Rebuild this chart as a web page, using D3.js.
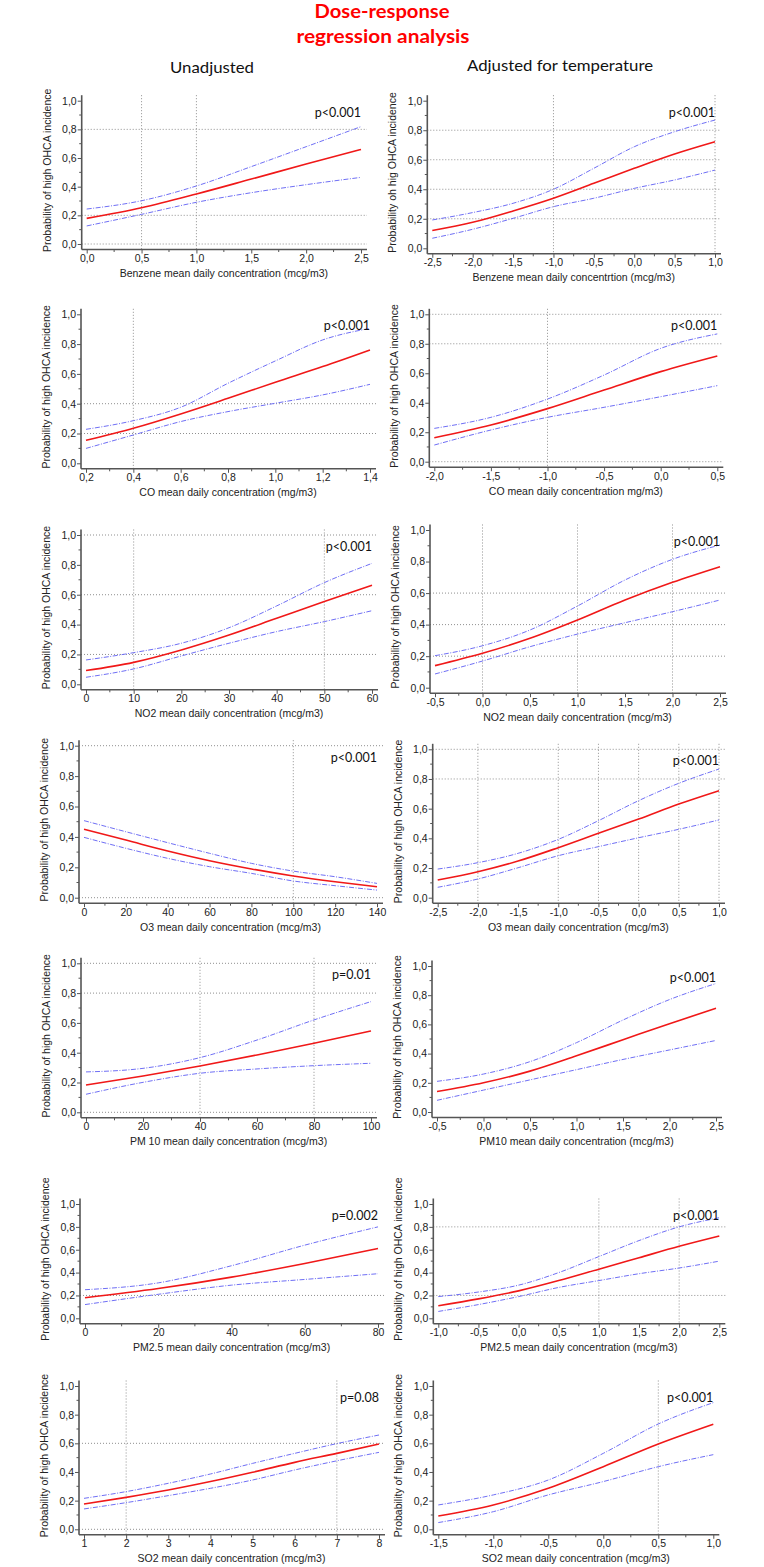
<!DOCTYPE html>
<html>
<head>
<meta charset="utf-8">
<script src="https://cdn.jsdelivr.net/npm/d3@7"></script>
<style>
body { margin: 0; background: #fff; }
text { font-family: "Liberation Sans", Arial, sans-serif; fill: #222; }
</style>
</head>
<body>
<div id="chart"></div>
<script>
// values: x positions, fitted probability, lower and upper 95% CI
var benzeneX = [0, 0.5, 1, 1.5, 2, 2.5];
var benzeneFit = [0.179, 0.253, 0.349, 0.453, 0.558, 0.660];
var benzeneLo = [0.126, 0.207, 0.291, 0.358, 0.414, 0.465];
var benzeneHi = [0.244, 0.302, 0.405, 0.540, 0.679, 0.819];

var benzeneAdjX = [-2.5, -2, -1.5, -1, -0.5, 0, 0.5, 1];
var benzeneAdjFit = [0.120, 0.176, 0.253, 0.339, 0.440, 0.542, 0.639, 0.722];
var benzeneAdjLo = [0.068, 0.129, 0.203, 0.282, 0.339, 0.406, 0.463, 0.530];
var benzeneAdjHi = [0.192, 0.242, 0.305, 0.400, 0.542, 0.688, 0.790, 0.869];

var coX = [0.2, 0.4, 0.6, 0.8, 1.0, 1.2, 1.4];
var coFit = [0.154, 0.235, 0.331, 0.436, 0.544, 0.649, 0.761];
var coLo = [0.100, 0.190, 0.280, 0.347, 0.403, 0.459, 0.530];
var coHi = [0.228, 0.286, 0.376, 0.537, 0.687, 0.828, 0.906];

var coAdjX = [-2, -1.5, -1, -0.5, 0, 0.5];
var coAdjFit = [0.163, 0.249, 0.360, 0.486, 0.611, 0.717];
var coAdjLo = [0.113, 0.215, 0.301, 0.369, 0.441, 0.516];
var coAdjHi = [0.226, 0.301, 0.425, 0.588, 0.769, 0.867];

var no2X = [0, 10, 20, 30, 40, 50, 60];
var no2Fit = [0.092, 0.147, 0.230, 0.330, 0.442, 0.554, 0.663];
var no2Lo = [0.047, 0.103, 0.190, 0.275, 0.353, 0.420, 0.493];
var no2Hi = [0.163, 0.212, 0.275, 0.379, 0.525, 0.681, 0.810];

var no2AdjX = [-0.5, 0, 0.5, 1, 1.5, 2, 2.5];
var no2AdjFit = [0.140, 0.218, 0.313, 0.429, 0.556, 0.668, 0.767];
var no2AdjLo = [0.087, 0.169, 0.260, 0.340, 0.412, 0.482, 0.556];
var no2AdjHi = [0.203, 0.266, 0.366, 0.518, 0.683, 0.814, 0.905];

var o3X = [0, 20, 40, 60, 80, 100, 120, 140];
var o3Fit = [0.450, 0.379, 0.307, 0.243, 0.189, 0.143, 0.105, 0.072];
var o3Lo = [0.397, 0.325, 0.259, 0.204, 0.160, 0.110, 0.079, 0.050];
var o3Hi = [0.507, 0.434, 0.362, 0.292, 0.226, 0.175, 0.138, 0.094];

var o3AdjX = [-2.5, -2, -1.5, -1, -0.5, 0, 0.5, 1];
var o3AdjFit = [0.119, 0.175, 0.247, 0.337, 0.434, 0.530, 0.631, 0.721];
var o3AdjLo = [0.070, 0.126, 0.202, 0.283, 0.344, 0.404, 0.461, 0.524];
var o3AdjHi = [0.193, 0.236, 0.299, 0.393, 0.519, 0.654, 0.771, 0.867];

var pm10X = [0, 20, 40, 60, 80, 100];
var pm10Fit = [0.183, 0.244, 0.311, 0.385, 0.463, 0.546];
var pm10Lo = [0.121, 0.201, 0.262, 0.291, 0.313, 0.329];
var pm10Hi = [0.271, 0.295, 0.367, 0.485, 0.620, 0.743];

var pm10AdjX = [-0.5, 0, 0.5, 1, 1.5, 2, 2.5];
var pm10AdjFit = [0.140, 0.200, 0.280, 0.385, 0.495, 0.605, 0.710];
var pm10AdjLo = [0.080, 0.150, 0.220, 0.290, 0.360, 0.425, 0.490];
var pm10AdjHi = [0.210, 0.260, 0.345, 0.475, 0.630, 0.770, 0.880];

var pm25X = [0, 20, 40, 60, 80];
var pm25Fit = [0.180, 0.260, 0.360, 0.480, 0.610];
var pm25Lo = [0.120, 0.210, 0.290, 0.340, 0.390];
var pm25Hi = [0.250, 0.310, 0.460, 0.640, 0.800];

var pm25AdjX = [-1, -0.5, 0, 0.5, 1, 1.5, 2, 2.5];
var pm25AdjFit = [0.110, 0.170, 0.240, 0.330, 0.430, 0.530, 0.630, 0.720];
var pm25AdjLo = [0.060, 0.120, 0.190, 0.270, 0.330, 0.390, 0.440, 0.500];
var pm25AdjHi = [0.190, 0.230, 0.290, 0.400, 0.540, 0.680, 0.800, 0.880];

var so2X = [1, 2, 3, 4, 5, 6, 7, 8];
var so2Fit = [0.177, 0.223, 0.274, 0.333, 0.398, 0.467, 0.530, 0.595];
var so2Lo = [0.142, 0.186, 0.235, 0.286, 0.344, 0.414, 0.478, 0.537];
var so2Hi = [0.216, 0.263, 0.321, 0.386, 0.460, 0.530, 0.598, 0.658];

var so2AdjX = [-1.5, -1, -0.5, 0, 0.5, 1];
var so2AdjFit = [0.093, 0.170, 0.286, 0.437, 0.595, 0.733];
var so2AdjLo = [0.047, 0.123, 0.240, 0.333, 0.437, 0.521];
var so2AdjHi = [0.170, 0.240, 0.344, 0.530, 0.735, 0.884];

var yTicks = [0, 0.2, 0.4, 0.6, 0.8, 1.0];
var yTitle = "Probability of high OHCA incidence";

// box = [x of min value, x of max value, y of 1.0, y of 0.0]
var panels = [
  {x: benzeneX, fit: benzeneFit, lo: benzeneLo, hi: benzeneHi, dom: [0, 2.5], step: 0.5, dec: 1,
   xTitle: "Benzene mean daily concentration (mcg/m3)", yTitle: yTitle, p: "p<0.001",
   hGrid: [0, 0.2, 0.8], vGrid: [0.5, 1], box: [86.7, 361, 100.7, 244]},
  {x: benzeneAdjX, fit: benzeneAdjFit, lo: benzeneAdjLo, hi: benzeneAdjHi, dom: [-2.5, 1], step: 0.5, dec: 1,
   xTitle: "Benzene mean daily concentrtion (mcg/m3)", yTitle: "Probability oh hig OHCA incidence", p: "p<0.001",
   hGrid: [0.2, 0.4, 0.6, 0.8], vGrid: [-1, 1], box: [432.3, 715, 100.7, 248.3]},
  {x: coX, fit: coFit, lo: coLo, hi: coHi, dom: [0.2, 1.4], step: 0.2, dec: 1,
   xTitle: "CO mean daily concentration (mg/m3)", yTitle: yTitle, p: "p<0.001",
   hGrid: [0.2, 0.4], vGrid: [0.4], box: [86, 370, 314.3, 463.3]},
  {x: coAdjX, fit: coAdjFit, lo: coAdjLo, hi: coAdjHi, dom: [-2, 0.5], step: 0.5, dec: 1,
   xTitle: "CO mean daily concentration mg/m3)", yTitle: yTitle, p: "p<0.001",
   hGrid: [0, 0.8, 1], vGrid: [-1], box: [434.3, 717.3, 314.3, 461.7]},
  {x: no2X, fit: no2Fit, lo: no2Lo, hi: no2Hi, dom: [0, 60], step: 10, dec: 0,
   xTitle: "NO2 mean daily concentration (mcg/m3)", yTitle: yTitle, p: "p<0.001",
   hGrid: [0.2, 0.6, 1], vGrid: [10, 50], box: [86, 372, 535, 684.3]},
  {x: no2AdjX, fit: no2AdjFit, lo: no2AdjLo, hi: no2AdjHi, dom: [-0.5, 2.5], step: 0.5, dec: 1,
   xTitle: "NO2 mean daily concentration (mcg/m3)", yTitle: yTitle, p: "p<0.001",
   hGrid: [0.2, 0.4, 0.6], vGrid: [0, 1, 2], box: [435, 720, 530, 687.7]},
  {x: o3X, fit: o3Fit, lo: o3Lo, hi: o3Hi, dom: [0, 140], step: 20, dec: 0,
   xTitle: "O3 mean daily concentration (mcg/m3)", yTitle: yTitle, p: "p<0.001",
   hGrid: [0, 1], vGrid: [100], box: [84, 377, 745.7, 897.7]},
  {x: o3AdjX, fit: o3AdjFit, lo: o3AdjLo, hi: o3AdjHi, dom: [-2.5, 1], step: 0.5, dec: 1,
   xTitle: "O3 mean daily concentration (mcg/m3)", yTitle: yTitle, p: "p<0.001",
   hGrid: [0.8, 1], vGrid: [-2, -1, -0.5, 0, 0.5, 1], box: [437.7, 719, 749.3, 897.7]},
  {x: pm10X, fit: pm10Fit, lo: pm10Lo, hi: pm10Hi, dom: [0, 100], step: 20, dec: 0,
   xTitle: "PM 10 mean daily concentration (mcg/m3)", yTitle: yTitle, p: "p=0.01",
   hGrid: [0, 0.8, 1], vGrid: [40, 80], box: [86, 371, 963.3, 1112.3]},
  {x: pm10AdjX, fit: pm10AdjFit, lo: pm10AdjLo, hi: pm10AdjHi, dom: [-0.5, 2.5], step: 0.5, dec: 1,
   xTitle: "PM10 mean daily concentration (mcg/m3)", yTitle: yTitle, p: "p<0.001",
   hGrid: [], vGrid: [], box: [437, 716, 966, 1112]},
  {x: pm25X, fit: pm25Fit, lo: pm25Lo, hi: pm25Hi, dom: [0, 80], step: 20, dec: 0,
   xTitle: "PM2.5 mean daily concentration (mcg/m3)", yTitle: yTitle, p: "p=0.002",
   hGrid: [0.2], vGrid: [], box: [85, 378, 1204, 1318.3]},
  {x: pm25AdjX, fit: pm25AdjFit, lo: pm25AdjLo, hi: pm25AdjHi, dom: [-1, 2.5], step: 0.5, dec: 1,
   xTitle: "PM2.5 mean daily concentration (mcg/m3)", yTitle: yTitle, p: "p<0.001",
   hGrid: [0.2, 0.8], vGrid: [1, 2], box: [438.3, 719.3, 1204, 1318.3]},
  {x: so2X, fit: so2Fit, lo: so2Lo, hi: so2Hi, dom: [1, 8], step: 1, dec: 0,
   xTitle: "SO2 mean daily concentration (mcg/m3)", yTitle: yTitle, p: "p=0.08",
   hGrid: [0, 0.6], vGrid: [2, 7], box: [84, 379, 1386, 1529.3]},
  {x: so2AdjX, fit: so2AdjFit, lo: so2AdjLo, hi: so2AdjHi, dom: [-1.5, 1], step: 0.5, dec: 1,
   xTitle: "SO2 mean daily concentration (mcg/m3)", yTitle: yTitle, p: "p<0.001",
   hGrid: [], vGrid: [0.5], box: [438.3, 713.3, 1386, 1529.3]}
];

var svg = d3.select("#chart").append("svg").attr("width", 764).attr("height", 1567);

// headings
svg.append("text").attr("x", 382).attr("y", 18).attr("text-anchor", "middle")
  .style("font-family", "Lato, sans-serif").style("font-weight", "bold").style("font-size", "19px").style("fill", "#f00")
  .attr("textLength", 135).attr("lengthAdjust", "spacingAndGlyphs").text("Dose-response");
svg.append("text").attr("x", 383).attr("y", 43).attr("text-anchor", "middle")
  .style("font-family", "Lato, sans-serif").style("font-weight", "bold").style("font-size", "19px").style("fill", "#f00")
  .attr("textLength", 173).attr("lengthAdjust", "spacingAndGlyphs").text("regression analysis");
svg.append("text").attr("x", 212).attr("y", 73).attr("text-anchor", "middle")
  .style("font-family", "Lato, sans-serif").style("font-size", "15px").style("fill", "#111")
  .attr("textLength", 84).attr("lengthAdjust", "spacingAndGlyphs").text("Unadjusted");
svg.append("text").attr("x", 560).attr("y", 71).attr("text-anchor", "middle")
  .style("font-family", "Lato, sans-serif").style("font-size", "15px").style("fill", "#111")
  .attr("textLength", 186).attr("lengthAdjust", "spacingAndGlyphs").text("Adjusted for temperature");

var fmt = function(dec){
  return function(d){ return d3.format("." + dec + "f")(d).replace(".", ",").replace("\u2212", "-"); };
};

var drawPanel = function(p){
  var b = p.box;
  var x = d3.scaleLinear().domain(p.dom).range([b[0], b[1]]);
  var y = d3.scaleLinear().domain([0, 1]).range([b[3], b[2]]);
  var left = b[0] - 5, bottom = b[3] + 5.5, right = b[1] + 6, top = b[2] - 5.5;
  var g = svg.append("g");

  // dotted grid
  g.selectAll(".hg").data(p.hGrid).enter().append("line")
    .attr("x1", left).attr("x2", right).attr("y1", function(d){ return y(d); }).attr("y2", function(d){ return y(d); })
    .attr("stroke", "#8f8f8f").attr("stroke-width", 1).attr("stroke-dasharray", "1,2");
  g.selectAll(".vg").data(p.vGrid).enter().append("line")
    .attr("x1", function(d){ return x(d); }).attr("x2", function(d){ return x(d); }).attr("y1", top).attr("y2", bottom)
    .attr("stroke", "#8f8f8f").attr("stroke-width", 1).attr("stroke-dasharray", "1,2");

  // x axis
  var xt = d3.range(p.dom[0], p.dom[1] + p.step / 2, p.step);
  var xm = d3.range(p.dom[0] + p.step / 2, p.dom[1], p.step);
  var xa = g.append("g").attr("transform", "translate(0," + bottom + ")")
    .call(d3.axisBottom(x).tickValues(xt).tickSize(4).tickPadding(1).tickFormat(fmt(p.dec)));
  xa.select(".domain").remove();
  xa.selectAll(".minor").data(xm).enter().append("line").attr("class", "minor")
    .attr("x1", function(d){ return x(d); }).attr("x2", function(d){ return x(d); }).attr("y1", 0).attr("y2", 2.5)
    .attr("stroke", "#555");
  xa.append("line").attr("x1", left).attr("x2", right).attr("stroke", "#555").attr("stroke-width", 1.6);

  // y axis
  var ya = g.append("g").attr("transform", "translate(" + left + ",0)")
    .call(d3.axisLeft(y).tickValues(yTicks).tickSize(4).tickPadding(1).tickFormat(fmt(1)));
  ya.select(".domain").remove();
  ya.selectAll(".minor").data([0.1, 0.3, 0.5, 0.7, 0.9]).enter().append("line").attr("class", "minor")
    .attr("y1", function(d){ return y(d); }).attr("y2", function(d){ return y(d); }).attr("x1", 0).attr("x2", -2.5)
    .attr("stroke", "#555");
  ya.append("line").attr("y1", top).attr("y2", bottom).attr("stroke", "#555").attr("stroke-width", 1.6);

  g.selectAll(".tick line").attr("stroke", "#555");
  g.selectAll(".tick text").style("font-family", "'Liberation Sans', Arial, sans-serif").style("font-size", "10.5px").attr("fill", "#1a1a1a");

  // axis titles
  g.append("text").attr("x", (b[0] + b[1]) / 2).attr("y", b[3] + 33).attr("text-anchor", "middle")
    .style("font-size", "10.5px").text(p.xTitle);
  g.append("text").attr("transform", "translate(" + (b[0] - 36) + "," + ((b[2] + b[3]) / 2 - 2) + ") rotate(-90)")
    .attr("text-anchor", "middle").style("font-size", "10.5px").text(p.yTitle);

  // curves
  var pts = function(vals){ return vals.map(function(v, i){ return [p.x[i], v]; }); };
  var line = d3.line().x(function(d){ return x(d[0]); }).y(function(d){ return y(d[1]); }).curve(d3.curveMonotoneX);
  [p.lo, p.hi].forEach(function(s){
    g.append("path").attr("d", line(pts(s))).attr("fill", "none")
      .attr("stroke", "#6f6ff5").attr("stroke-width", 1).attr("stroke-dasharray", "5,1.5,1,1.5");
  });
  g.append("path").attr("d", line(pts(p.fit))).attr("fill", "none").attr("stroke", "#f01818").attr("stroke-width", 1.6);

  // p value
  g.append("text").attr("x", b[1]).attr("y", b[2] + 16).attr("text-anchor", "end")
    .style("font-family", "Lato, sans-serif").style("font-size", "12.5px").style("fill", "#111").text(p.p);
};

panels.forEach(drawPanel);
</script>
</body>
</html>
